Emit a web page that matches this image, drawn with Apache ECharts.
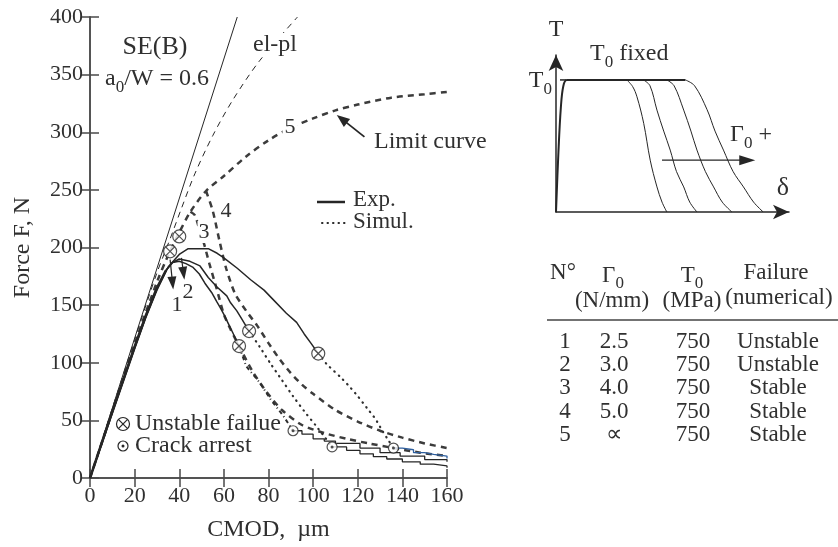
<!DOCTYPE html>
<html>
<head>
<meta charset="utf-8">
<title>SE(B) force versus CMOD</title>
<script src="https://cdn.jsdelivr.net/npm/echarts@6/dist/echarts.min.js"></script>
<style>
  html, body { margin: 0; padding: 0; background: #ffffff; }
  #chart { width: 838px; height: 547px; }
</style>
</head>
<body>
<div id="chart"></div>
<script>
const FONT = 'Liberation Serif';
const INK = '#262626';
const TXT = '#303030';

// ---- axes of the force / CMOD plot ----
const cmodRange = [0, 160];
const cmodStep = 20;
const forceRange = [0, 400];
const forceStep = 50;

// ---- reference lines ----
const elasticLine = [[0, 0], [66, 400]];
const elPlLine = [[0, 0], [20, 120], [30, 178], [36, 208], [41, 234], [47, 264], [55, 297], [64, 328], [76, 362], [93, 400]];

// ---- simulations (N° 3, 4, 5) ----
const sim5 = [[0, 0], [10, 58], [20, 116], [30, 170], [35, 193], [40, 213], [45, 231], [52, 249], [60, 262], [70, 279],
  [80, 293], [90, 304], [100, 312], [110, 319], [120, 324], [135, 330], [150, 333], [160, 335]];
const sim4 = [[52, 249], [55, 232], [58, 206], [61, 182], [65, 160], [70, 145], [75, 132], [80, 117], [85, 103], [90, 91],
  [95, 81], [100, 73], [110, 59], [120, 49], [130, 41], [140, 35], [150, 30], [160, 26]];
const sim3 = [[45, 231], [47, 228], [49, 216], [51, 204], [53.5, 186], [56.8, 164], [60, 142], [63, 129], [68, 110],
  [73, 92], [79, 75], [86, 59], [95, 46], [105, 39], [115, 34], [125, 30], [136, 26], [148, 22], [160, 19]];

// ---- experiments ----
const expA = [[0, 0], [5, 29], [10, 58], [15, 86], [20, 114], [25, 141], [30, 165], [34, 180], [37, 187], [40, 188],
  [43, 186], [46, 183], [49, 177], [51.5, 169], [54.5, 161], [56.8, 153], [58.3, 148], [60, 142], [62, 134], [64, 126], [66.8, 114.5]];
const expB = [[0, 0], [5, 28], [10, 57], [15, 85], [20, 113], [25, 140], [30, 164], [34, 180], [37, 187], [40, 190],
  [44.8, 188], [49.3, 184], [53, 174], [56.8, 166], [61.3, 158], [63, 152], [65.8, 145], [68, 138], [71.3, 127.5]];
const expC = [[0, 0], [5, 28], [10, 56], [15, 84], [20, 112], [25, 139], [30, 163], [35, 183], [40, 194], [44, 199],
  [53, 199], [57, 195], [60, 191], [66, 182], [72, 172], [78, 163], [82, 155], [88, 143], [92.6, 135], [96, 125], [99, 117], [102.3, 108]];

// unstable jumps down to crack arrest
const jumpA = [[66.8, 114.5], [70, 97], [76, 83], [81, 68], [86.6, 54], [91, 41]];
const jumpB = [[71.3, 127.5], [76, 114], [81, 99], [86, 85], [91, 71], [96, 58], [101, 46], [105, 36], [108.5, 27]];
const jumpC = [[102.3, 108], [106, 99], [112, 88], [116, 80], [120, 71], [124, 61], [128, 51], [131, 41], [134, 32], [136, 26]];

// load after crack arrest
const tailA = [[91, 41], [95, 38], [100, 34], [105, 32], [110, 30], [121, 26], [130, 22], [139, 19], [150, 16], [160, 14]];
const tailB = [[108.5, 27], [115, 24], [121, 21], [127, 18.5], [133, 16.5], [140, 14], [148, 12], [154, 10.5], [160, 9]];
const tailC = [[136, 26], [140, 24.5], [145, 22], [150, 20.5], [154, 19], [160, 17]];

const unstablePts = [[35.9, 196.7], [40, 209.6], [66.8, 114.5], [71.3, 127.5], [102.3, 108]];
const arrestPts = [[91, 41], [108.5, 27], [136, 26]];

const dropArrows = [[[35.9, 189.5], [37.3, 163.5]], [[41, 191], [42.3, 172]]];
const limitArrow = [[123, 296], [110.6, 315]];

// ---- traction–separation sketch (T against δ) ----
const tsRise = [[0, 0], [0.01, 0.36], [0.02, 0.63], [0.03, 0.76], [0.045, 0.8], [0.537, 0.8]];
const tsDrop1 = [[0.294, 0.8], [0.318, 0.76], [0.336, 0.698], [0.364, 0.537], [0.391, 0.314], [0.419, 0.152], [0.44, 0.06], [0.46, 0]];
const tsDrop2 = [[0.363, 0.8], [0.39, 0.765], [0.419, 0.617], [0.447, 0.49], [0.474, 0.375], [0.5, 0.245], [0.53, 0.152], [0.555, 0.06], [0.585, 0]];
const tsDrop3 = [[0.46, 0.8], [0.49, 0.765], [0.53, 0.617], [0.56, 0.49], [0.585, 0.375], [0.62, 0.245], [0.654, 0.152], [0.69, 0.06], [0.73, 0]];
const tsDrop4 = [[0.537, 0.8], [0.575, 0.765], [0.627, 0.62], [0.66, 0.49], [0.695, 0.375], [0.735, 0.245], [0.778, 0.152], [0.82, 0.06], [0.86, 0]];
const tsT0 = 0.8;
const gammaArrow = [[0.44, 0.314], [0.827, 0.314]];

// ---- parameter table ----
const tableRows = [
  ['1', '2.5', '750', 'Unstable'],
  ['2', '3.0', '750', 'Unstable'],
  ['3', '4.0', '750', 'Stable'],
  ['4', '5.0', '750', 'Stable'],
  ['5', '\u221D', '750', 'Stable']
];

const chart = echarts.init(document.getElementById('chart'), null, { renderer: 'canvas' });

function ln(data, style, extra) {
  return Object.assign({
    type: 'line', xAxisIndex: 0, yAxisIndex: 0, data, symbol: 'none', showSymbol: false,
    silent: true, lineStyle: style, z: 3
  }, extra || {});
}
function tsLn(data, width) {
  return {
    type: 'line', xAxisIndex: 2, yAxisIndex: 2, data, symbol: 'none', showSymbol: false, silent: true,
    smooth: 0.35, lineStyle: { color: INK, width }
  };
}

const thickDash = { color: '#3c3c3c', width: 2.5, type: [6, 5] };
const dotted = { color: '#2e2e2e', width: 2.2, type: [0.5, 5.5], cap: 'round' };
const solidExp = { color: INK, width: 1.5 };

const frameAxis = {
  axisLine: { show: true, lineStyle: { color: '#4a4a4a', width: 1.5 } },
  axisTick: { show: true, inside: true, length: 9, lineStyle: { color: '#4a4a4a', width: 1.5 } },
  splitLine: { show: false }
};

const tsAxis = {
  min: 0, axisTick: { show: false }, axisLabel: { show: false }, splitLine: { show: false },
  axisLine: { show: true, symbol: ['none', 'arrow'], symbolSize: [11, 16], lineStyle: { color: INK, width: 1.5 } }
};

const option = {
  animation: false,
  backgroundColor: '#ffffff',
  textStyle: { fontFamily: FONT },
  grid: [
    { left: 90, right: 391, top: 17, bottom: 68 },
    { left: 556, right: 49, top: 55, bottom: 335 }
  ],
  xAxis: [
    Object.assign({
      type: 'value', gridIndex: 0, position: 'bottom', min: cmodRange[0], max: cmodRange[1], interval: cmodStep,
      axisLabel: { fontSize: 22, color: TXT, fontFamily: FONT, margin: 7 },
      name: 'CMOD,  \u00B5m', nameLocation: 'middle', nameGap: 40,
      nameTextStyle: { fontSize: 24, color: TXT, fontFamily: FONT }
    }, frameAxis),
    Object.assign({
      type: 'value', gridIndex: 0, position: 'top', min: cmodRange[0], max: cmodRange[1], interval: cmodStep,
      axisLabel: { show: false }
    }, frameAxis),
    Object.assign({ type: 'value', gridIndex: 1, max: 0.967 }, tsAxis)
  ],
  yAxis: [
    Object.assign({
      type: 'value', gridIndex: 0, position: 'left', min: forceRange[0], max: forceRange[1], interval: forceStep,
      axisLabel: { fontSize: 22, color: TXT, fontFamily: FONT, margin: 7 },
      name: 'Force F, N', nameLocation: 'middle', nameGap: 55, nameRotate: 90,
      nameTextStyle: { fontSize: 24, color: TXT, fontFamily: FONT }
    }, frameAxis),
    Object.assign({
      type: 'value', gridIndex: 0, position: 'right', min: forceRange[0], max: forceRange[1], interval: forceStep,
      axisLabel: { show: false }
    }, frameAxis),
    Object.assign({ type: 'value', gridIndex: 1, max: 0.951 }, tsAxis)
  ],
  series: [
    ln(elasticLine, { color: INK, width: 1 }),
    ln(elPlLine, { color: INK, width: 1, type: [6, 5] }, { smooth: 0.3 }),
    ln(sim5, thickDash, { smooth: 0.3 }),
    ln(sim4, thickDash, { smooth: 0.25 }),
    ln(sim3, thickDash, { smooth: 0.25 }),
    ln(jumpA, { color: '#2e2e2e', width: 2, type: [4, 3, 1, 3] }),
    ln(jumpB, dotted, { smooth: 0.2 }),
    ln(jumpC, dotted, { smooth: 0.2 }),
    ln(expA, solidExp, { z: 4 }),
    ln(expB, solidExp, { z: 4 }),
    ln(expC, solidExp, { z: 4 }),
    ln(expA.filter(p => p[1] <= 180 && p[0] <= 34), { color: INK, width: 2.5 }, { z: 4 }),
    ln(tailA, { color: INK, width: 1.3 }, { step: 'end', z: 4 }),
    ln(tailB, { color: INK, width: 1.3 }, { step: 'end', z: 4 }),
    ln(tailC, { color: '#2f5f9e', width: 1.3 }, { step: 'end', z: 4 }),
    {
      type: 'scatter', xAxisIndex: 0, yAxisIndex: 0, data: unstablePts, symbol: 'circle', symbolSize: 13, silent: true, z: 6,
      itemStyle: { color: '#ffffff', borderColor: INK, borderWidth: 1.2 }
    },
    {
      type: 'scatter', xAxisIndex: 0, yAxisIndex: 0, data: unstablePts, symbol: 'path://M0,0L10,10M10,0L0,10', symbolSize: 9,
      silent: true, z: 7, itemStyle: { color: 'none', borderColor: INK, borderWidth: 1.2 }
    },
    {
      type: 'scatter', xAxisIndex: 0, yAxisIndex: 0, data: arrestPts, symbol: 'circle', symbolSize: 10, silent: true, z: 6,
      itemStyle: { color: '#ffffff', borderColor: INK, borderWidth: 1.2 }
    },
    {
      type: 'scatter', xAxisIndex: 0, yAxisIndex: 0, data: arrestPts, symbol: 'circle', symbolSize: 3, silent: true, z: 7,
      itemStyle: { color: INK }
    },
    tsLn(tsRise, 2),
    tsLn(tsDrop1, 1),
    tsLn(tsDrop2, 1),
    tsLn(tsDrop3, 1),
    tsLn(tsDrop4, 1)
  ]
};

chart.setOption(option);

// ---- annotations ----
const mainPx = p => chart.convertToPixel({ xAxisIndex: 0, yAxisIndex: 0 }, p);
const tsPx = p => chart.convertToPixel({ xAxisIndex: 2, yAxisIndex: 2 }, p);

function text(x, y, str, o) {
  o = o || {};
  const size = o.size || 24;
  const style = {
    text: str, fill: TXT, font: size + 'px "' + FONT + '"',
    textAlign: o.align || 'left', textVerticalAlign: 'middle'
  };
  if (o.bg) { style.backgroundColor = o.bg; style.padding = o.pad || [0, 2]; }
  return { type: 'text', x, y, z: 100, silent: true, style };
}
function subText(x, y, parts, o) {
  o = o || {};
  const size = o.size || 24;
  const sub = Math.round(size * 0.72);
  const el = text(x, y, parts.map(p => '{' + p[0] + '|' + p[1] + '}').join(''), o);
  el.style.rich = {
    m: { fontSize: size, fontFamily: FONT, fill: TXT, lineHeight: size + 10 },
    s: { fontSize: sub, fontFamily: FONT, fill: TXT, lineHeight: sub, verticalAlign: 'bottom' }
  };
  return el;
}
function arrowEls(a, b, len, halfW, lw) {
  const dx = b[0] - a[0], dy = b[1] - a[1];
  const L = Math.hypot(dx, dy), ux = dx / L, uy = dy / L;
  const bx = b[0] - ux * len, by = b[1] - uy * len;
  return [
    { type: 'line', silent: true, z: 90, shape: { x1: a[0], y1: a[1], x2: bx + ux, y2: by + uy }, style: { stroke: INK, lineWidth: lw } },
    {
      type: 'polygon', silent: true, z: 90,
      shape: { points: [[b[0], b[1]], [bx - uy * halfW, by + ux * halfW], [bx + uy * halfW, by - ux * halfW]] },
      style: { fill: INK }
    }
  ];
}

const g = [];

// labels inside the plot
g.push(text(155, 47, 'SE(B)', { size: 26, align: 'center' }));
g.push(subText(105, 79, [['m', 'a'], ['s', '0'], ['m', '/W = 0.6']], { size: 24 }));
g.push(text(275, 45, 'el-pl', { size: 24, align: 'center', bg: '#ffffff' }));
g.push(text(290, 127, '5', { size: 22, align: 'center', bg: '#ffffff' }));
g.push(text(372, 142, 'Limit curve', { size: 24, bg: '#ffffff' }));
g.push(text(226, 211, '4', { size: 22, align: 'center' }));
g.push(text(204, 232, '3', { size: 22, align: 'center', bg: '#ffffff', pad: [0, 1] }));
g.push(text(177, 305, '1', { size: 22, align: 'center' }));
g.push(text(188, 292, '2', { size: 22, align: 'center' }));

dropArrows.forEach(a => { g.push(...arrowEls(mainPx(a[0]), mainPx(a[1]), 13, 4.5, 1.2)); });
g.push(...arrowEls(mainPx(limitArrow[0]), mainPx(limitArrow[1]), 13, 5, 1.8));

// line-style key
g.push({ type: 'line', silent: true, z: 90, shape: { x1: 317, y1: 202, x2: 345, y2: 202 }, style: { stroke: INK, lineWidth: 2.5 } });
g.push({ type: 'line', silent: true, z: 90, shape: { x1: 322, y1: 223, x2: 346, y2: 223 }, style: { stroke: INK, lineWidth: 2, lineDash: [0.5, 5], lineCap: 'round' } });
g.push(text(353, 200, 'Exp.', { size: 23 }));
g.push(text(353, 222, 'Simul.', { size: 23 }));

// marker key
g.push({ type: 'circle', silent: true, z: 90, shape: { cx: 123, cy: 424, r: 6.5 }, style: { fill: '#fff', stroke: INK, lineWidth: 1.2 } });
g.push({ type: 'line', silent: true, z: 91, shape: { x1: 118.4, y1: 419.4, x2: 127.6, y2: 428.6 }, style: { stroke: INK, lineWidth: 1.2 } });
g.push({ type: 'line', silent: true, z: 91, shape: { x1: 127.6, y1: 419.4, x2: 118.4, y2: 428.6 }, style: { stroke: INK, lineWidth: 1.2 } });
g.push({ type: 'circle', silent: true, z: 90, shape: { cx: 123, cy: 446, r: 5 }, style: { fill: '#fff', stroke: INK, lineWidth: 1.2 } });
g.push({ type: 'circle', silent: true, z: 91, shape: { cx: 123, cy: 446, r: 1.5 }, style: { fill: INK } });
g.push(text(135, 424, 'Unstable failue', { size: 24 }));
g.push(text(135, 446, 'Crack arrest', { size: 24 }));

// traction–separation sketch labels
const origin = tsPx([0, 0]);
const t0 = tsPx([0, tsT0]);
g.push(text(origin[0], 30, 'T', { size: 24, align: 'center' }));
g.push(subText(590, 54, [['m', 'T'], ['s', '0'], ['m', ' fixed']], { size: 24 }));
g.push(subText(552, t0[1] + 1, [['m', 'T'], ['s', '0']], { size: 24, align: 'right' }));
g.push({ type: 'line', silent: true, z: 90, shape: { x1: t0[0] + 4, y1: t0[1], x2: t0[0] + 10, y2: t0[1] }, style: { stroke: INK, lineWidth: 1.5 } });
g.push(subText(730, 135, [['m', '\u0393'], ['s', '0'], ['m', ' +']], { size: 24 }));
g.push(text(783, 188, '\u03B4', { size: 26, align: 'center' }));
g.push(...arrowEls(tsPx(gammaArrow[0]), tsPx(gammaArrow[1]), 16, 5, 1.2));

// parameter table
g.push(text(563, 273, 'N\u00B0', { size: 23, align: 'center' }));
g.push(subText(613, 276, [['m', '\u0393'], ['s', '0']], { size: 23, align: 'center' }));
g.push(text(612, 301, '(N/mm)', { size: 23, align: 'center' }));
g.push(subText(692, 276, [['m', 'T'], ['s', '0']], { size: 23, align: 'center' }));
g.push(text(692, 301, '(MPa)', { size: 23, align: 'center' }));
g.push(text(776, 273, 'Failure', { size: 23, align: 'center' }));
g.push(text(779, 298, '(numerical)', { size: 23, align: 'center' }));
g.push({ type: 'line', silent: true, z: 90, shape: { x1: 547, y1: 320, x2: 838, y2: 320 }, style: { stroke: '#444', lineWidth: 1.5 } });
const colX = [565, 614, 693, 778];
tableRows.forEach((row, i) => {
  const y = 342 + i * 23.2;
  row.forEach((cell, j) => g.push(text(colX[j], y, cell, { size: 23, align: 'center' })));
});

chart.setOption({ graphic: { elements: g } });
</script>
</body>
</html>
